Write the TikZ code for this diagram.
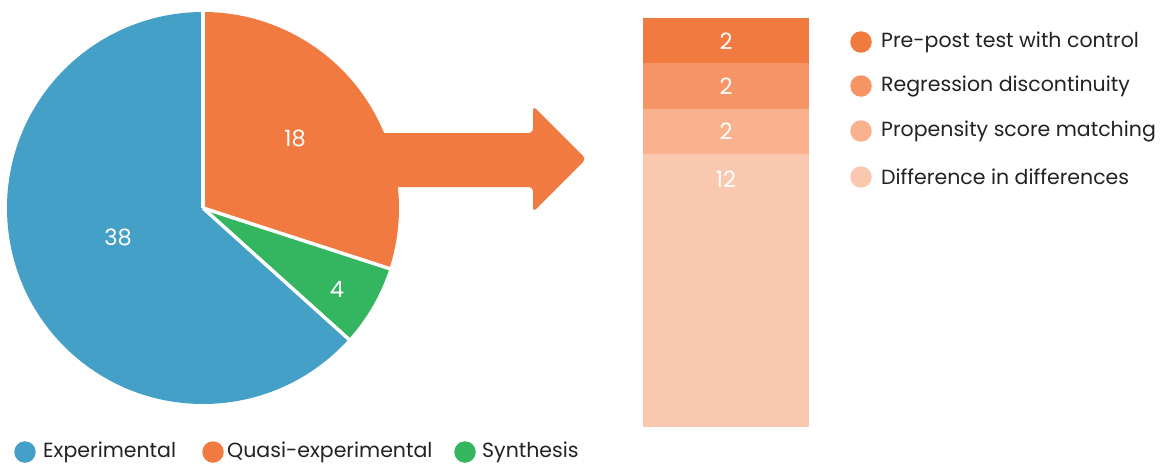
\documentclass[tikz,border=0pt]{standalone}
\usepackage{fontspec}
\setmainfont{Poppins}
\definecolor{cblue}{HTML}{44A0C6}
\definecolor{corange}{HTML}{F07A40}
\definecolor{cgreen}{HTML}{34B661}
\definecolor{cb1}{HTML}{F07A40}
\definecolor{cb2}{HTML}{F59566}
\definecolor{cb3}{HTML}{F9B18E}
\definecolor{cb4}{HTML}{FAC8AF}
\definecolor{ctext}{HTML}{222222}
\begin{document}
\begin{tikzpicture}[x=1pt,y=-1pt,
  num/.style={text=white,font=\fontsize{22.5}{26}\selectfont},
  legtext/.style={text=ctext,anchor=west,inner sep=0pt,font=\fontsize{20.5}{24}\selectfont},
  dot/.style={circle,inner sep=0pt,minimum size=21.5pt},
  sep/.style={white,line width=3.5pt}]
\useasboundingbox (0,0) rectangle (1168,464);
\coordinate (c) at (203,208);
\def\R{196}
\fill[corange] (c) -- ++(-90:\R) arc[start angle=-90,end angle=18,radius=\R] -- cycle;
\fill[cgreen] (c) -- ++(18:\R) arc[start angle=18,end angle=42,radius=\R] -- cycle;
\fill[cblue] (c) -- ++(42:\R) arc[start angle=42,end angle=270,radius=\R] -- cycle;
\draw[sep] (c) -- ++(-90:\R);
\draw[sep] (c) -- ++(18:\R+2);
\draw[sep] (c) -- ++(42:\R+2);
% arrow
\fill[corange,rounded corners=4pt] (375,133) -- (533,133) -- (533,106) -- (586,159) -- (533,212) -- (533,187) -- (375,187) -- cycle;
\node[num] (n18) at (295,138) {18};
\node[num] (n38) at (118,237) {38};
\node[num] (n4) at (337,289) {4};
% bar
\fill[cb1] (643,18) rectangle (809,63);
\fill[cb2] (643,63) rectangle (809,109);
\fill[cb3] (643,109) rectangle (809,154);
\fill[cb4] (643,154) rectangle (809,427);
\node[num] (b1) at (726,41) {2};
\node[num] (b2) at (726,86) {2};
\node[num] (b3) at (726,131) {2};
\node[num] (b4) at (726,179) {12};
% right legend
\node[dot,fill=cb1] (l1) at (861,42) {};
\node[legtext] (t1) at (881,42) {Pre-post test with control};
\node[dot,fill=cb2] (l2) at (861,86) {};
\node[legtext] (t2) at (881,86) {Regression discontinuity};
\node[dot,fill=cb3] (l3) at (861,131) {};
\node[legtext] (t3) at (881,131) {Propensity score matching};
\node[dot,fill=cb4] (l4) at (861,177) {};
\node[legtext] (t4) at (881,177) {Difference in differences};
% bottom legend
\node[dot,fill=cblue] (d1) at (25,452) {};
\node[legtext] (e1) at (43,452) {Experimental};
\node[dot,fill=corange] (d2) at (213,452) {};
\node[legtext] (e2) at (227,452) {Quasi-experimental};
\node[dot,fill=cgreen] (d3) at (465,452) {};
\node[legtext] (e3) at (482,452) {Synthesis};
\end{tikzpicture}
\end{document}
